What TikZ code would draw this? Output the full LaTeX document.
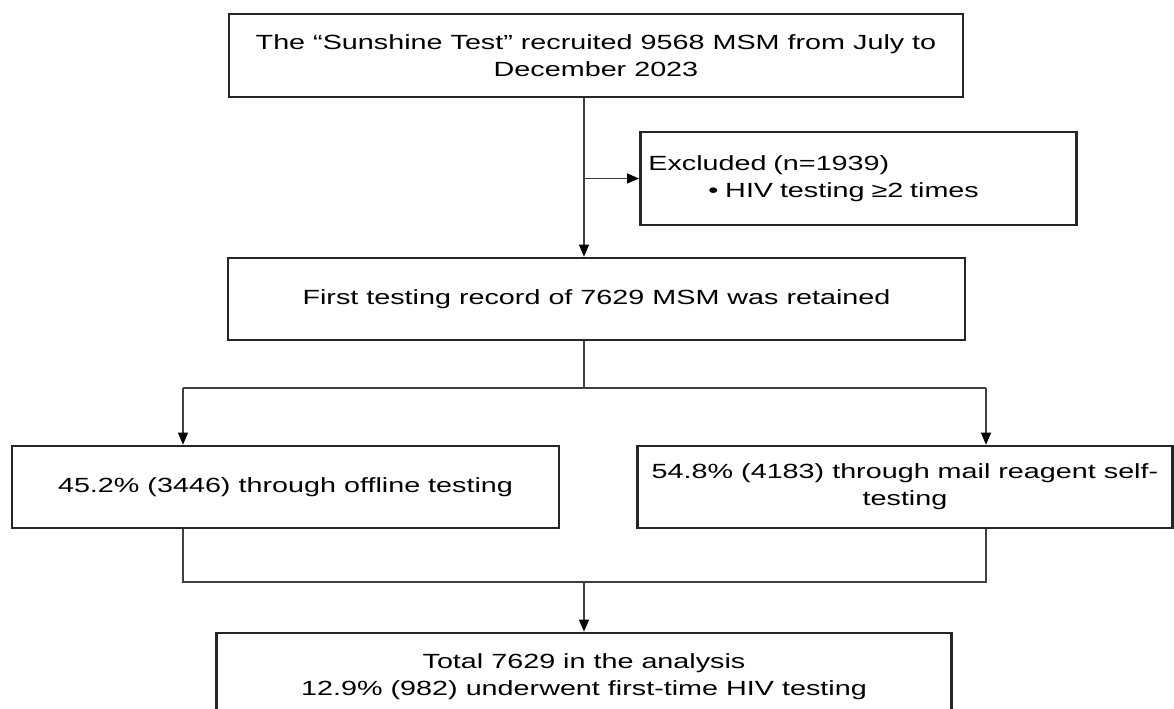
\documentclass[tikz,border=0pt]{standalone}
\usepackage{fontspec}
\usepackage{tikz}
\usetikzlibrary{arrows.meta,positioning,calc}
\newfontfamily\flowfont[FakeStretch=1.4]{Liberation Sans}
\newcommand{\pxu}{0.75pt}

\begin{document}
\begin{tikzpicture}[
  x=0.75pt, y=-0.75pt,
  flowbox/.style={draw=black!85, line width=2pt, inner sep=0pt, align=center,
    font=\flowfont\fontsize{15.4pt}{20.3pt}\selectfont},
  flink/.style={draw=black!75, line width=0.8pt},
  farrow/.style={flink, -{Triangle[length=9pt, width=7.5pt, fill=black, color=black]}}
]
\path[use as bounding box, fill=white] (0,0) rectangle (1174,709);
\clip (0,0) rectangle (1174,709);
\node[flowbox, minimum width=734*\pxu, minimum height=83*\pxu] (sunshine) at (596,55.5)
  {The “Sunshine Test” recruited 9568 MSM from July to\\December 2023};
\node[flowbox, anchor=west, minimum height=93*\pxu, inner xsep=8*\pxu,
  text width=420*\pxu, align=left] (excluded) at (639,178.5)
  {Excluded (n=1939)\\\hspace*{45pt}• HIV testing ≥2 times};
\node[flowbox, minimum width=737*\pxu, minimum height=82*\pxu] (retained) at (596.5,299)
  {First testing record of 7629 MSM was retained};
\node[flowbox, minimum width=547*\pxu, minimum height=82*\pxu] (offline) at (285.5,487)
  {45.2\% (3446) through offline testing};
\node[flowbox, minimum width=535*\pxu, minimum height=82*\pxu] (selftest) at (905,487)
  {54.8\% (4183) through mail reagent self-\\testing};
\node[flowbox, minimum width=735*\pxu, minimum height=88*\pxu] (total) at (584,677)
  {Total 7629 in the analysis\\12.9\% (982) underwent first-time HIV testing};
\coordinate (split) at (584,388);
\coordinate (lsplit) at (183,388);
\coordinate (rsplit) at (986,388);
\coordinate (merge) at (584,582);
\draw[farrow] (sunshine.south -| total.north) -- (retained.north -| total.north);
\draw[farrow] (excluded.west -| total.north) -- (excluded.west);
\draw[flink] (retained.south -| split) -- (split);
\draw[flink] (lsplit) -- (rsplit);
\draw[farrow] (lsplit) -- (lsplit |- offline.north);
\draw[farrow] (rsplit) -- (rsplit |- selftest.north);
\draw[flink] (lsplit |- offline.south) -- (lsplit |- merge) -- (rsplit |- merge)
  -- (rsplit |- selftest.south);
\draw[farrow] (merge) -- (total.north);
\end{tikzpicture}
\end{document}
